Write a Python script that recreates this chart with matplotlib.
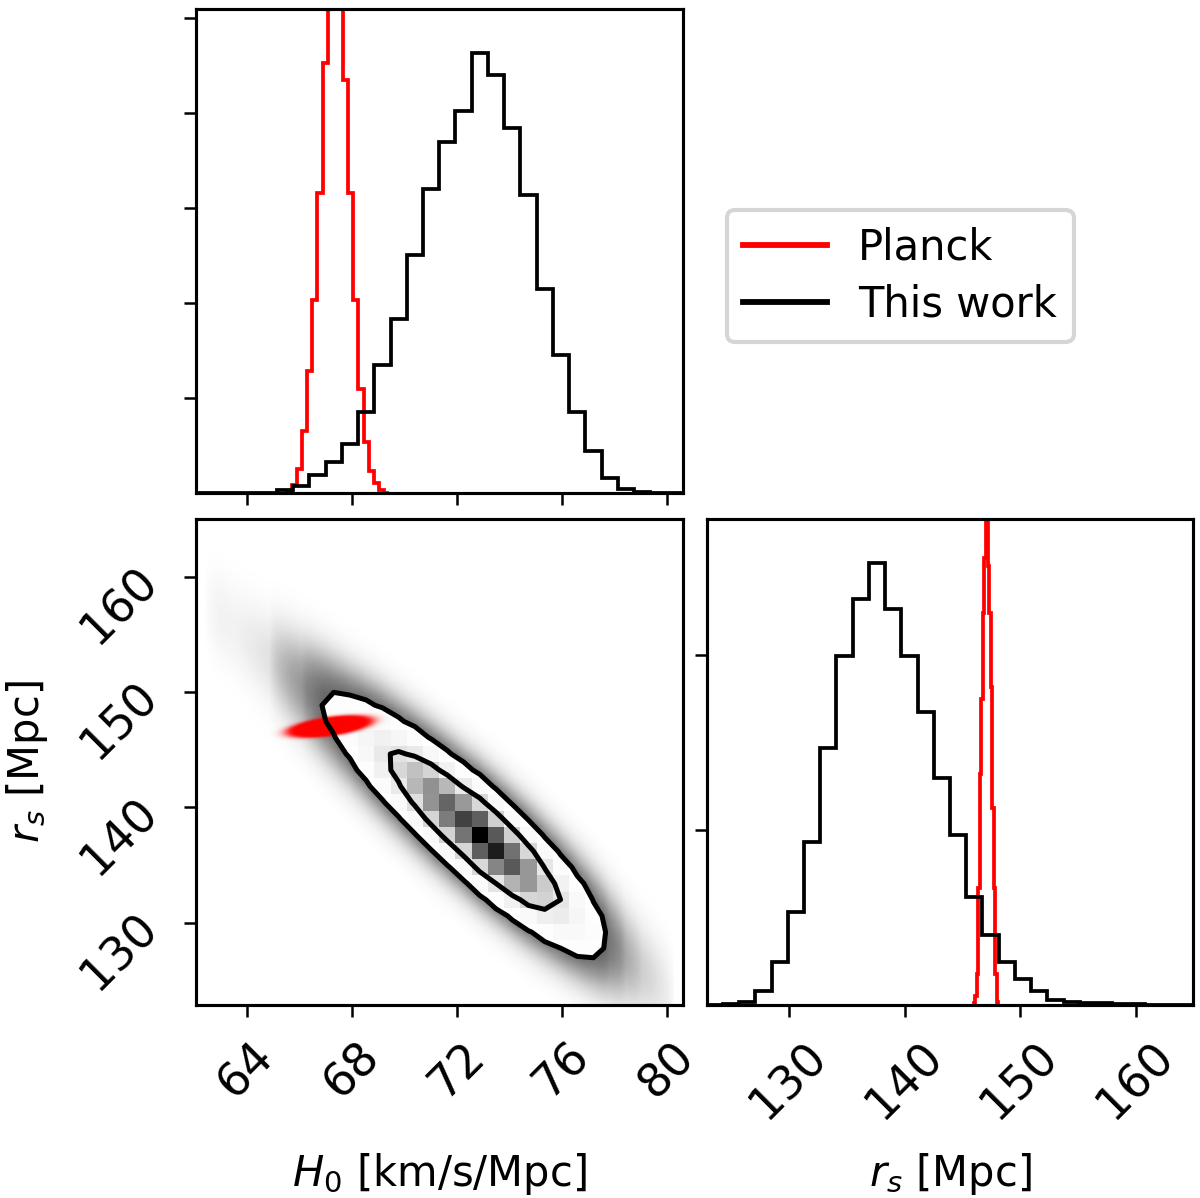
import numpy as np
import matplotlib
matplotlib.use("Agg")
import matplotlib.pyplot as plt
from matplotlib.colors import LinearSegmentedColormap
from matplotlib.lines import Line2D
from math import erf

# ---------------- data ----------------
h0_range = (62.06, 80.59)          # H0 axis / bin range
rs_range = (122.86, 165.0)         # r_s axis / bin range
n_bins = 30

h0_ticks = [64, 68, 72, 76, 80]
rs_ticks = [130, 140, 150, 160]

# "This work" 1D marginals (30 bins over the ranges above, arbitrary units)
h0_this = [0.0, 0.002, 0.002, 0.004, 0.007, 0.04, 0.077, 0.19, 0.33, 0.52,
           0.86, 1.35, 1.83, 2.51, 3.20, 3.69, 4.02, 4.63, 4.40, 3.84,
           3.14, 2.15, 1.45, 0.855, 0.44, 0.165, 0.05, 0.017, 0.007, 0.0]
rs_this = [0.0, 0.006, 0.019, 0.082, 0.248, 0.533, 0.93, 1.472, 1.996, 2.324,
           2.528, 2.265, 1.996, 1.676, 1.30, 0.975, 0.62, 0.40, 0.248, 0.147,
           0.08, 0.029, 0.019, 0.01, 0.01, 0.004, 0.004, 0.002, 0.0, 0.0]

# Planck 1D marginals
planck_h0_bins = (65.52, 69.42)
h0_planck = [0.017, 0.087, 0.26, 0.66, 1.29, 2.03, 3.16, 4.52, 5.6, 6.0,
             5.5, 4.35, 3.16, 2.03, 1.10, 0.54, 0.23, 0.105, 0.03, 0.007]
planck_rs_bins = (146.0, 148.1)
rs_planck = [0.01, 0.05, 0.18, 0.67, 1.32, 1.75, 2.24, 2.56, 3.1, 2.51,
             2.24, 1.82, 1.13, 0.67, 0.18, 0.02]

# "This work" 2D: r_s conditional on H0 follows a ridge
ridge_h0 = 72.9
ridge_rs = 137.55
ridge_slope = -1.9
ridge_spread = 2.0
contour_levels = (0.68, 0.95)

# Planck 2D ellipse
planck_h0 = 67.15
planck_rs = 146.97
planck_sigma_h0 = 0.54
planck_slope = 0.30
planck_spread = 0.27

legend_labels = ["Planck", "This work"]

# ---------------- figure ----------------
plt.rcParams['font.family'] = ['DejaVu Sans']
plt.rcParams['axes.linewidth'] = 0.75

fig = plt.figure(figsize=(4.0, 1198 / 300), dpi=300)
ax_h = fig.add_axes([0.1631, 0.5882, 0.4058, 0.4043])
ax_2d = fig.add_axes([0.1631, 0.1611, 0.4058, 0.4057])
ax_r = fig.add_axes([0.5889, 0.1611, 0.4055, 0.4057])

h_edges = np.linspace(*h0_range, n_bins + 1)
r_edges = np.linspace(*rs_range, n_bins + 1)
hc = 0.5 * (h_edges[1:] + h_edges[:-1])
rc = 0.5 * (r_edges[1:] + r_edges[:-1])

hist_lw = 0.9

# --- H0 marginal ---
ax_h.stairs(h0_planck, np.linspace(*planck_h0_bins, len(h0_planck) + 1),
            color='red', lw=hist_lw)
ax_h.stairs(h0_this, h_edges, color='black', lw=hist_lw)
ax_h.set_xlim(*h0_range)
ax_h.set_ylim(0, 1.1 * max(h0_this))
ax_h.set_xticks(h0_ticks)
ax_h.set_xticklabels([])
ax_h.set_yticks([1, 2, 3, 4, 5])
ax_h.set_yticklabels([])

# --- r_s marginal ---
ax_r.stairs(rs_planck, np.linspace(*planck_rs_bins, len(rs_planck) + 1),
            color='red', lw=hist_lw)
ax_r.stairs(rs_this, r_edges, color='black', lw=hist_lw)
ax_r.set_xlim(*rs_range)
ax_r.set_ylim(0, 1.1 * max(rs_this))
ax_r.set_xticks(rs_ticks)
ax_r.set_yticks([1, 2])
ax_r.set_yticklabels([])

# --- 2D panel ---
Phi = np.vectorize(lambda z: 0.5 * (1.0 + erf(z / np.sqrt(2.0))))
ridge = ridge_rs + ridge_slope * (hc - ridge_h0)
cdf = Phi((r_edges[None, :] - ridge[:, None]) / ridge_spread)
H = np.array(h0_this)[:, None] * np.diff(cdf, axis=1)   # (h, r)

Hflat = np.sort(H.ravel())[::-1]
sm = np.cumsum(Hflat)
sm /= sm[-1]
V = np.sort([Hflat[sm <= lv][-1] for lv in contour_levels])

# point cloud rendered as density shading
gh = np.linspace(*h0_range, 800)
gr = np.linspace(*rs_range, 800)
GH, GR = np.meshgrid(gh, gr)
ph = np.interp(GH, hc, h0_this)
gridge = ridge_rs + ridge_slope * (GH - ridge_h0)
dens = ph * np.exp(-0.5 * ((GR - gridge) / ridge_spread) ** 2) / (
    ridge_spread * np.sqrt(2 * np.pi)) * (r_edges[1] - r_edges[0])
cloud_alpha = 1.0 - np.exp(-1.5 * np.clip(dens / V[0], 0, None) ** 0.65)
rgba = np.zeros(GH.shape + (4,))
rgba[..., :3] = 0.1
rgba[..., 3] = cloud_alpha * 0.85
ax_2d.imshow(rgba, extent=[*h0_range, *rs_range], origin='lower',
             aspect='auto', interpolation='bilinear', zorder=1)

# white fill inside outer contour
ax_2d.contourf(hc, rc, H.T, [V[0], H.max()], colors=['white'],
               antialiased=False, zorder=2)
# grey density cells
density_cmap = LinearSegmentedColormap.from_list(
    "density_cmap", [(0, 0, 0, 1), (1, 1, 1, 0)])
ax_2d.pcolormesh(h_edges, r_edges, (H.max() - H).T, cmap=density_cmap,
                 zorder=3)

# Planck red ellipse
maha = ((GH - planck_h0) / planck_sigma_h0) ** 2 + (
    (GR - (planck_rs + planck_slope * (GH - planck_h0))) / planck_spread) ** 2
dens_p = np.exp(-0.5 * maha)
rgba_p = np.zeros(GH.shape + (4,))
rgba_p[..., 0] = 1.0
rgba_p[..., 3] = 1.0 - np.exp(-100.0 * dens_p)
ax_2d.imshow(rgba_p, extent=[*h0_range, *rs_range], origin='lower',
             aspect='auto', interpolation='bilinear', zorder=4)

ax_2d.contour(hc, rc, H.T, V, colors='black', linewidths=1.2, zorder=5)

ax_2d.set_xlim(*h0_range)
ax_2d.set_ylim(*rs_range)
ax_2d.set_xticks(h0_ticks)
ax_2d.set_yticks(rs_ticks)

for ax in (ax_h, ax_2d, ax_r):
    ax.tick_params(direction='out', length=2.9, width=0.6, labelsize=11,
                   pad=4.0)
for ax in (ax_2d, ax_r):
    plt.setp(ax.get_xticklabels(), rotation=45)
plt.setp(ax_2d.get_yticklabels(), rotation=45)

ax_2d.set_xlabel(r'$H_0$ [km/s/Mpc]', fontsize=10)
ax_2d.xaxis.set_label_coords(0.5, -0.3)
ax_2d.set_ylabel(r'$r_s$ [Mpc]', fontsize=10)
ax_2d.yaxis.set_label_coords(-0.3, 0.5)
ax_r.set_xlabel(r'$r_s$ [Mpc]', fontsize=10)
ax_r.xaxis.set_label_coords(0.5, -0.3)

handles = [Line2D([], [], color='red', lw=1.4, label=legend_labels[0]),
           Line2D([], [], color='black', lw=1.4, label=legend_labels[1])]
fig.legend(handles=handles, loc='upper left', bbox_to_anchor=(0.6056, 0.8247),
           borderaxespad=0, fontsize=10, frameon=True, labelspacing=0.35,
           handletextpad=0.75)

fig.savefig("out.png", dpi=300)
